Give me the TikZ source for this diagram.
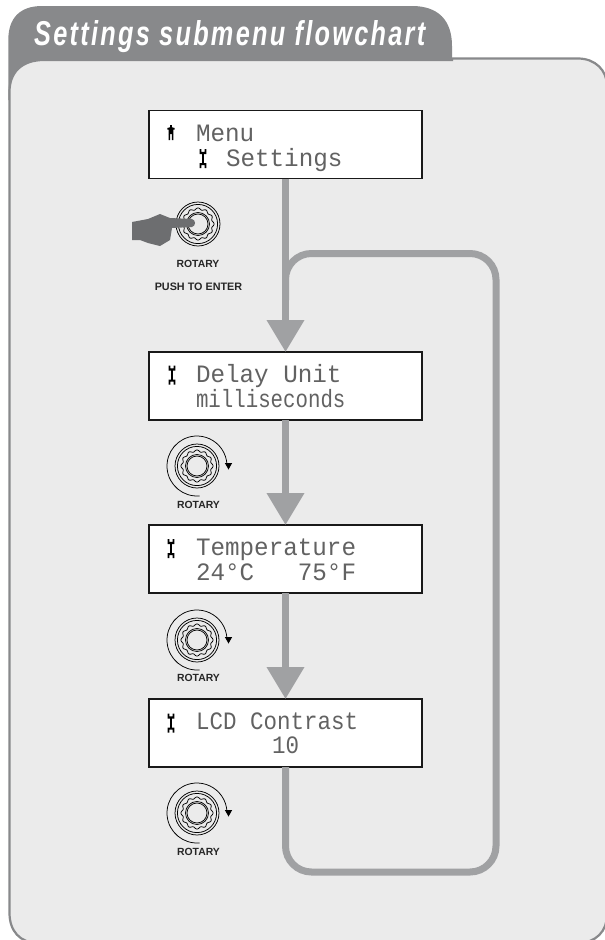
\documentclass[tikz,border=0pt]{standalone}
\usepackage{fontspec}
\setmainfont{Liberation Sans}
\newfontfamily\lcdfont{Liberation Mono}
\usetikzlibrary{arrows.meta}
\definecolor{panelfill}{HTML}{EBEBEB}
\definecolor{tabgray}{HTML}{88898B}
\definecolor{flowgray}{HTML}{A0A1A3}
\definecolor{handgray}{HTML}{6D6E70}
\definecolor{lcdgray}{HTML}{626262}
% \lcdtext{name}{x}{baseline}{char pitch factor}{text}
\newcommand{\lcdtext}[5]{\node[lcdline] (#1) at (#2,#3) {\scalebox{#4}[1]{#5}};}
\tikzset{
  x=1pt,y=-1pt,
  lcdbox/.style={draw=black!90,fill=white,line width=1.3pt,minimum width=273pt,minimum height=68pt,inner sep=0pt,outer sep=0pt},
  lcdline/.style={anchor=base west,inner sep=0pt,outer sep=0pt,text=lcdgray,font=\lcdfont\fontsize{25}{25}\selectfont},
  flow/.style={draw=flowgray,line width=7pt},
  flowarrow/.style={flow,-{Triangle[width=36pt,length=32pt,fill=flowgray]}},
  knoblabel/.style={inner sep=0pt,font=\bfseries\fontsize{10.4}{10.4}\selectfont,text=black!85},
  ring/.style={draw=black,line width=0.75pt},
  wrench/.pic={
    \fill[black] (-1.2,-5) rectangle (1.2,6);
    \fill[black] (-3.4,-9) rectangle (-1.6,-5) (1.6,-9) rectangle (3.4,-5) (-3.4,-6.2) rectangle (3.4,-4);
    \fill[black] (-3.4,5) rectangle (3.4,7.2) (-3.4,7.2) rectangle (-1.6,10) (1.6,7.2) rectangle (3.4,10);
  },
  manicon/.pic={
    \fill[black] (-1.3,-8) rectangle (1.3,-5.6);
    \fill[black] (-3.6,-5) -- (0,-6) -- (3.6,-5) -- (3.6,-3.5) -- (2.4,-3.5) -- (2.4,1) -- (-2.4,1) -- (-2.4,-3.5) -- (-3.6,-3.5) -- cycle;
    \fill[black] (-2.4,1) rectangle (-0.8,7) (0.8,1) rectangle (2.4,7);
  },
  knobcore/.pic={
    \draw[ring] (0,0) circle[radius=22];
    \draw[ring] (0,0) circle[radius=19.6];
    \draw[ring,smooth,samples=145,domain=0:360] plot ({(15.2+0.9*cos(12*\x))*cos(\x)},{(15.2+0.9*cos(12*\x))*sin(\x)});
    \draw[ring] (0,0) circle[radius=11.5];
    \draw[ring] (0,0) circle[radius=10];
  },
  knobturn/.pic={
    \pic {knobcore};
    \draw[ring] (30*cos 85,30*sin 85) arc[start angle=85,end angle=358,radius=30];
    \fill[black] (27.8,-3) -- (35.2,-3) -- (31.5,3.5) -- cycle;
  }
}
\begin{document}
\begin{tikzpicture}
\useasboundingbox (0,0) rectangle (605,940);
\clip (0,0) rectangle (605,940);
\fill[white] (0,0) rectangle (605,940);
% tab
\fill[tabgray] (8.3,100) -- (8.3,40) .. controls (8.3,18) and (20,6) .. (42,6) -- (412,6) .. controls (438,6) and (452,20) .. (452,46) -- (452,100) -- cycle;
% panel
\draw[draw=tabgray,line width=2.2pt,fill=panelfill] (9.5,92) .. controls (9.5,72) and (22,60) .. (44,60) -- (452,60) -- (452,58.5) -- (578,58.5) .. controls (595,58.5) and (607,70) .. (607,86) -- (607,915) .. controls (607,931) and (596,943) .. (578,943) -- (38,943) .. controls (20,943) and (9.5,931) .. (9.5,913) -- cycle;
% lcd boxes
\node[lcdbox] (b1) at (285.5,144.5) {};
\node[lcdbox] (b2) at (285.5,386) {};
\node[lcdbox] (b3) at (285.5,559) {};
\node[lcdbox] (b4) at (285.5,733) {};
% connectors
\coordinate (lbr) at (285.5,872);
\coordinate (rbr) at (496,872);
\coordinate (rtr) at (496,253.5);
\coordinate (ltr) at (285.5,253.5);
\coordinate (ljoin) at (285.5,300);
\draw[flow,rounded corners=26pt] (b4.south) -- (lbr) -- (rbr) -- (rtr) -- (ltr) -- (ljoin);
\draw[flowarrow] (b1.south) -- (b2.north);
\draw[flowarrow] (b2.south) -- (b3.north);
\draw[flowarrow] (b3.south) -- (b4.north);
% lcd text
\lcdtext{t1a}{196}{141}{0.97}{Menu}
\lcdtext{t1b}{226}{166}{0.97}{Settings}
\lcdtext{t2a}{196}{382}{0.97}{Delay Unit}
\lcdtext{t2b}{196}{407}{0.83}{milliseconds}
\lcdtext{t3a}{196}{555}{0.97}{Temperature}
\lcdtext{t3b}{196}{580}{0.97}{24°C\ \ \ 75°F}
\lcdtext{t4a}{196}{729}{0.9}{LCD Contrast}
\lcdtext{t4b}{272}{753}{0.9}{10}
% icons
\pic at (171,133) {manicon};
\pic at (203,158) {wrench};
\pic at (172,374.5) {wrench};
\pic at (171,548) {wrench};
\pic at (171,722.5) {wrench};
% knobs
\pic at (198,224) {knobcore};
\pic at (197,466) {knobturn};
\pic at (197,640) {knobturn};
\pic at (197,813) {knobturn};
% hand
\fill[handgray] (132,222) -- (148,219) -- (160,214) -- (170,218) -- (192,219) .. controls (196,220) and (196,226) .. (192,227) -- (172,228) -- (170,240) -- (160,246) -- (148,243) -- (140,240) -- (132,240) -- cycle;
% labels
\node[knoblabel] (l1) at (198,264) {ROTARY};
\node[knoblabel,font=\bfseries\fontsize{10.8}{10.8}\selectfont] (l1b) at (198.5,287) {PUSH TO ENTER};
\node[knoblabel] (l2) at (198.5,505) {ROTARY};
\node[knoblabel] (l3) at (198.5,678) {ROTARY};
\node[knoblabel] (l4) at (198.5,852) {ROTARY};
% title
\node[anchor=base west,inner sep=0pt,text=white] (title) at (34,45.5) {\resizebox{391pt}{25pt}{\addfontfeature{LetterSpace=9}\bfseries\itshape Settings submenu flowchart}};
\end{tikzpicture}
\end{document}
